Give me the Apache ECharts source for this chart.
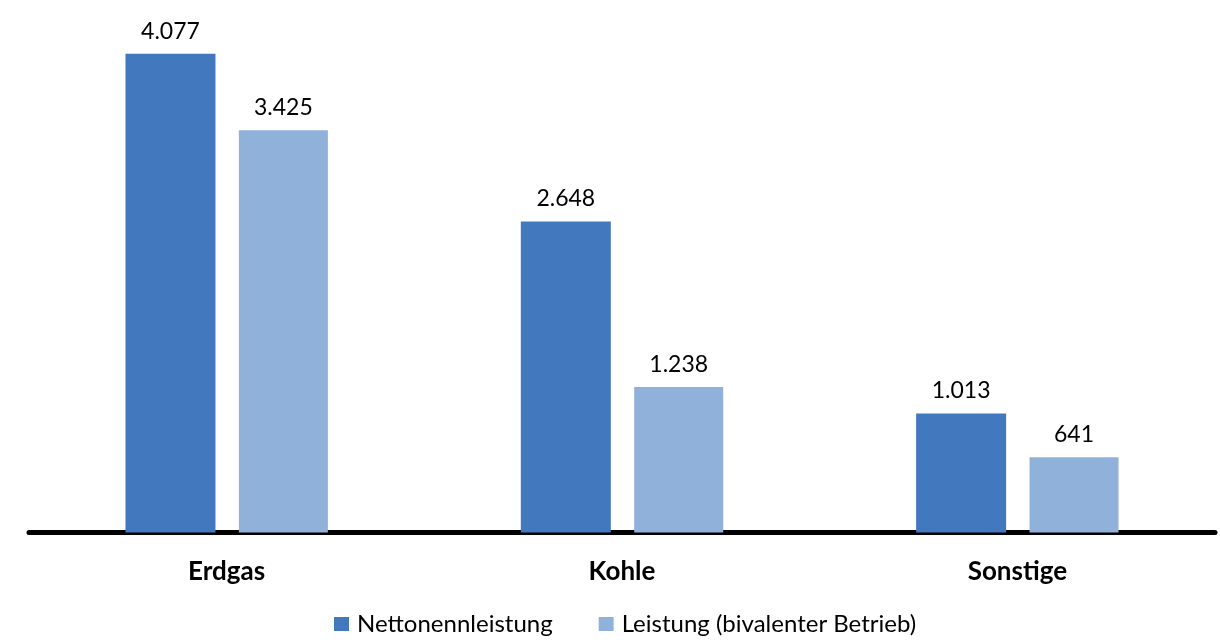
<!DOCTYPE html>
<html>
<head>
<meta charset="utf-8">
<style>
  html, body { margin: 0; padding: 0; background: #fff; }
  #main { width: 1220px; height: 643px; }
</style>
<script src="https://cdn.jsdelivr.net/npm/echarts@6/dist/echarts.min.js"></script>
</head>
<body>
<div id="main"></div>
<script>
var categories = ['Erdgas', 'Kohle', 'Sonstige'];
var netto = [4077, 2648, 1013];
var bivalent = [3425, 1238, 641];
var seriesNames = ['Nettonennleistung', 'Leistung (bivalenter Betrieb)'];

var FONT = 'Lato';

function fmt(v) {
	return String(v).replace(/\B(?=(\d{3})+(?!\d))/g, '.');
}

var myChart = echarts.init(document.getElementById('main'));
var option = {
	animation: false,
	textStyle: { fontFamily: FONT },
	grid: {
		left: 29,
		right: 5,
		top: 4,
		bottom: 110.5
	},
	legend: {
		bottom: 2,
		left: 329,
		itemWidth: 15,
		itemHeight: 14,
		itemGap: 46,
		icon: 'rect',
		textStyle: { fontFamily: FONT, fontSize: 24, color: '#000', padding: [0, 0, 0, 3] },
		data: seriesNames
	},
	xAxis: {
		type: 'category',
		data: categories,
		axisLine: { lineStyle: { color: '#000', width: 5 } },
		axisTick: { show: false },
		axisLabel: {
			margin: 26,
			fontFamily: FONT,
			fontSize: 26,
			fontWeight: 'bold',
			color: '#000'
		}
	},
	yAxis: {
		type: 'value',
		min: 0,
		max: 4500,
		show: false,
		splitLine: { show: false }
	},
	series: [
		{
			name: seriesNames[0],
			type: 'bar',
			data: netto,
			barWidth: 90,
			barGap: '26%',
			itemStyle: { color: '#4279BE' },
			label: {
				show: true,
				position: 'top',
				distance: 11,
				fontFamily: FONT,
				fontSize: 23,
				color: '#000',
				formatter: function (p) { return fmt(p.value); }
			}
		},
		{
			name: seriesNames[1],
			type: 'bar',
			data: bivalent,
			barWidth: 89,
			itemStyle: { color: '#8FB1DA' },
			label: {
				show: true,
				position: 'top',
				distance: 11,
				fontFamily: FONT,
				fontSize: 23,
				color: '#000',
				formatter: function (p) { return fmt(p.value); }
			}
		}
	]
};
option && myChart.setOption(option);
</script>
</body>
</html>
